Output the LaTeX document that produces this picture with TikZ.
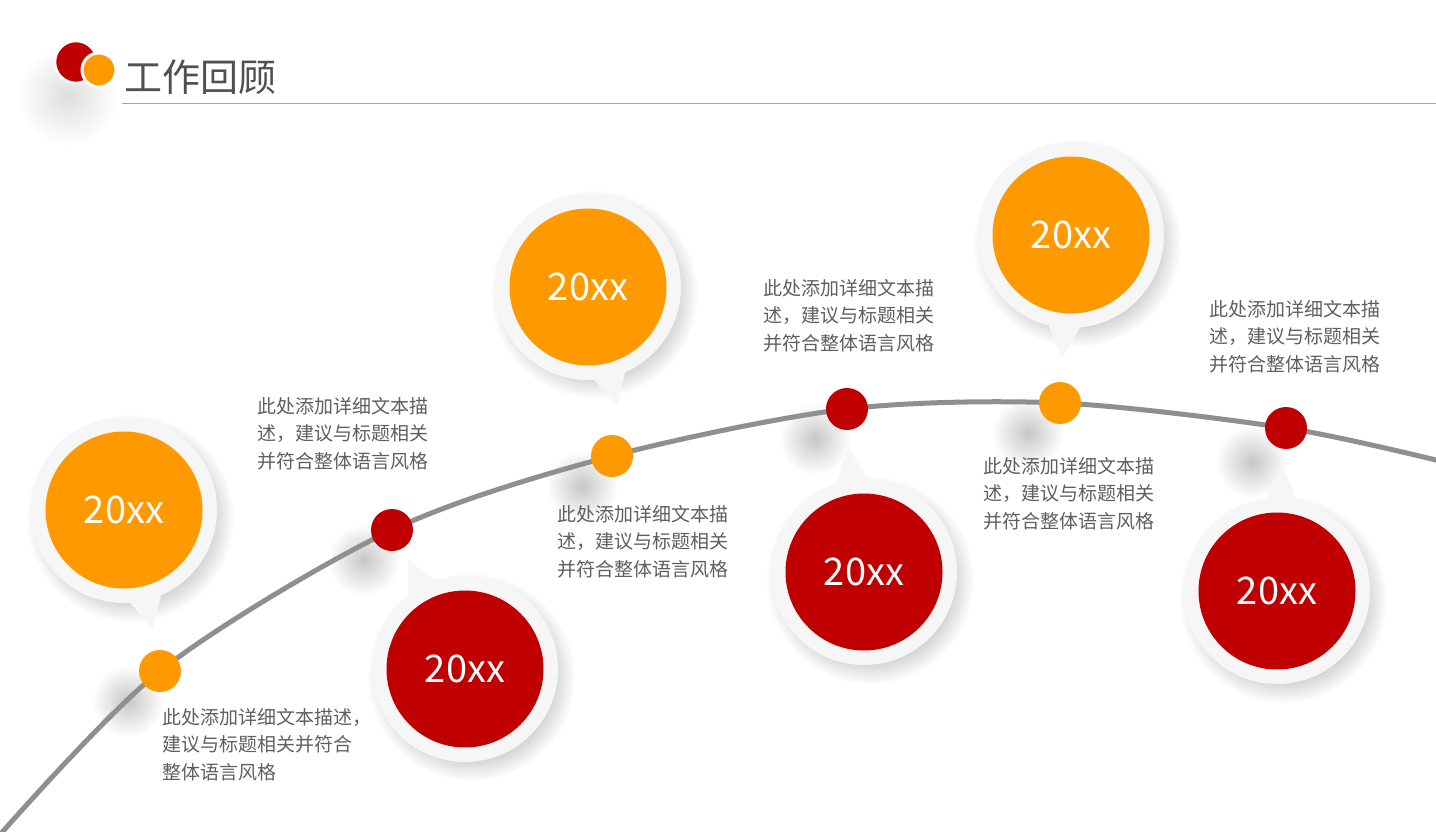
\documentclass[tikz,border=0pt]{standalone}
\usepackage{fontspec}
\setmainfont{Noto Sans CJK SC}
\usetikzlibrary{calc,fadings,backgrounds}

\definecolor{accentorange}{HTML}{FF9900}
\definecolor{accentred}{HTML}{C00000}
\definecolor{ringgray}{HTML}{F6F6F6}
\definecolor{textgray}{HTML}{5F5F5F}
\definecolor{titlegray}{HTML}{505050}
\definecolor{linegray}{HTML}{8F8F8F}
\tikzfading[name=blob, inner color=transparent!0, outer color=transparent!100]

\tikzset{
  dot/.style={circle, fill=#1, minimum size=42pt, inner sep=0pt},
  ring/.style={circle, fill=ringgray, minimum size=186pt, inner sep=0pt},
  disc/.style={circle, fill=#1, minimum size=157pt, inner sep=0pt, text=white, font=\fontsize{38}{40}\selectfont},
  desc/.style={anchor=north west, inner sep=0pt, align=left, text=textgray, font=\fontsize{19}{27.5}\selectfont},
  softshade/.style={fill=black, fill opacity=#1, path fading=blob},
  ringshade/.style={fill=black, fill opacity=#1, path fading=circle with fuzzy edge 20 percent},
  timeline/.style={linegray, line width=5pt},
}

\begin{document}
\begin{tikzpicture}[x=1pt, y=-1pt]
\useasboundingbox (0,0) rectangle (1436,832);

\fill[softshade=0.13] (68,96) circle (50);
\node[circle, fill=accentred, draw=white, line width=2.5pt, minimum size=42pt] (logored) at (76,62) {};
\node[circle, fill=accentorange, draw=white, line width=3pt, minimum size=34pt] (logoorange) at (99,70) {};
\node[anchor=west, inner sep=0pt, text=titlegray, font=\fontsize{38}{40}\selectfont] (title) at (124,77) {工作回顾};
\draw[linegray!80, line width=1pt] (122,104) -- (1436,104);

\node[dot=accentorange] (d1) at (160,671) {};
\node[dot=accentred] (d2) at (392,530) {};
\node[dot=accentorange] (d3) at (612,456) {};
\node[dot=accentred] (d4) at (847,409) {};
\node[dot=accentorange] (d5) at (1060,403) {};
\node[dot=accentred] (d6) at (1286,428) {};

\begin{scope}[on background layer]
\fill[white] (0,0) rectangle (1436,832);
\fill[softshade=0.22] ($(d1)+(-32,30)$) circle (36);
\fill[softshade=0.22] ($(d2)+(-28,30)$) circle (36);
\fill[softshade=0.22] ($(d3)+(-30,30)$) circle (36);
\fill[softshade=0.22] ($(d4)+(-32,30)$) circle (36);
\fill[softshade=0.22] ($(d5)+(-32,30)$) circle (36);
\fill[softshade=0.22] ($(d6)+(-34,34)$) circle (36);
\draw[timeline] plot[smooth] coordinates {(-10,846) (d1) (d2) (d3) (d4) (d5) (d6) (1440,461)};
\end{scope}

\coordinate (tip1) at (153,630);
\coordinate (tip2) at (408,560);
\coordinate (tip3) at (617,407);
\coordinate (tip4) at (848,448);
\coordinate (tip5) at (1062,358);
\coordinate (tip6) at (1283,468);

\fill[ringshade=0.16] (130,518) circle (104);
\node[ring] (r1) at (124,510) {};
\fill[ringgray] ($(r1.center)!80pt!-17:(tip1)$) -- (tip1) -- ($(r1.center)!80pt!17:(tip1)$) -- cycle;
\node[disc=accentorange] (b1) at (r1.center) {20xx};

\fill[ringshade=0.16] (471,677) circle (104);
\node[ring] (r2) at (465,669) {};
\fill[ringgray] ($(r2.center)!80pt!-17:(tip2)$) -- (tip2) -- ($(r2.center)!80pt!17:(tip2)$) -- cycle;
\node[disc=accentred] (b2) at (r2.center) {20xx};

\fill[ringshade=0.16] (594,294) circle (104);
\node[ring] (r3) at (588,287) {};
\fill[ringgray] ($(r3.center)!80pt!-17:(tip3)$) -- (tip3) -- ($(r3.center)!80pt!17:(tip3)$) -- cycle;
\node[disc=accentorange] (b3) at (r3.center) {20xx};

\fill[ringshade=0.16] (870,580) circle (104);
\node[ring] (r4) at (864,572) {};
\fill[ringgray] ($(r4.center)!80pt!-17:(tip4)$) -- (tip4) -- ($(r4.center)!80pt!17:(tip4)$) -- cycle;
\node[disc=accentred] (b4) at (r4.center) {20xx};

\fill[ringshade=0.16] (1077,243) circle (104);
\node[ring] (r5) at (1071,235) {};
\fill[ringgray] ($(r5.center)!80pt!-17:(tip5)$) -- (tip5) -- ($(r5.center)!80pt!17:(tip5)$) -- cycle;
\node[disc=accentorange] (b5) at (r5.center) {20xx};

\fill[ringshade=0.16] (1283,599) circle (104);
\node[ring] (r6) at (1277,591) {};
\fill[ringgray] ($(r6.center)!80pt!-17:(tip6)$) -- (tip6) -- ($(r6.center)!80pt!17:(tip6)$) -- cycle;
\node[disc=accentred] (b6) at (r6.center) {20xx};

\node[desc] (t1) at (162,708) {此处添加详细文本描述，\\建议与标题相关并符合\\整体语言风格};
\node[desc] (t2) at (257,397) {此处添加详细文本描\\述，建议与标题相关\\并符合整体语言风格};
\node[desc] (t3) at (557,505) {此处添加详细文本描\\述，建议与标题相关\\并符合整体语言风格};
\node[desc] (t4) at (763,279) {此处添加详细文本描\\述，建议与标题相关\\并符合整体语言风格};
\node[desc] (t5) at (983,457) {此处添加详细文本描\\述，建议与标题相关\\并符合整体语言风格};
\node[desc] (t6) at (1209,300) {此处添加详细文本描\\述，建议与标题相关\\并符合整体语言风格};
\end{tikzpicture}
\end{document}
